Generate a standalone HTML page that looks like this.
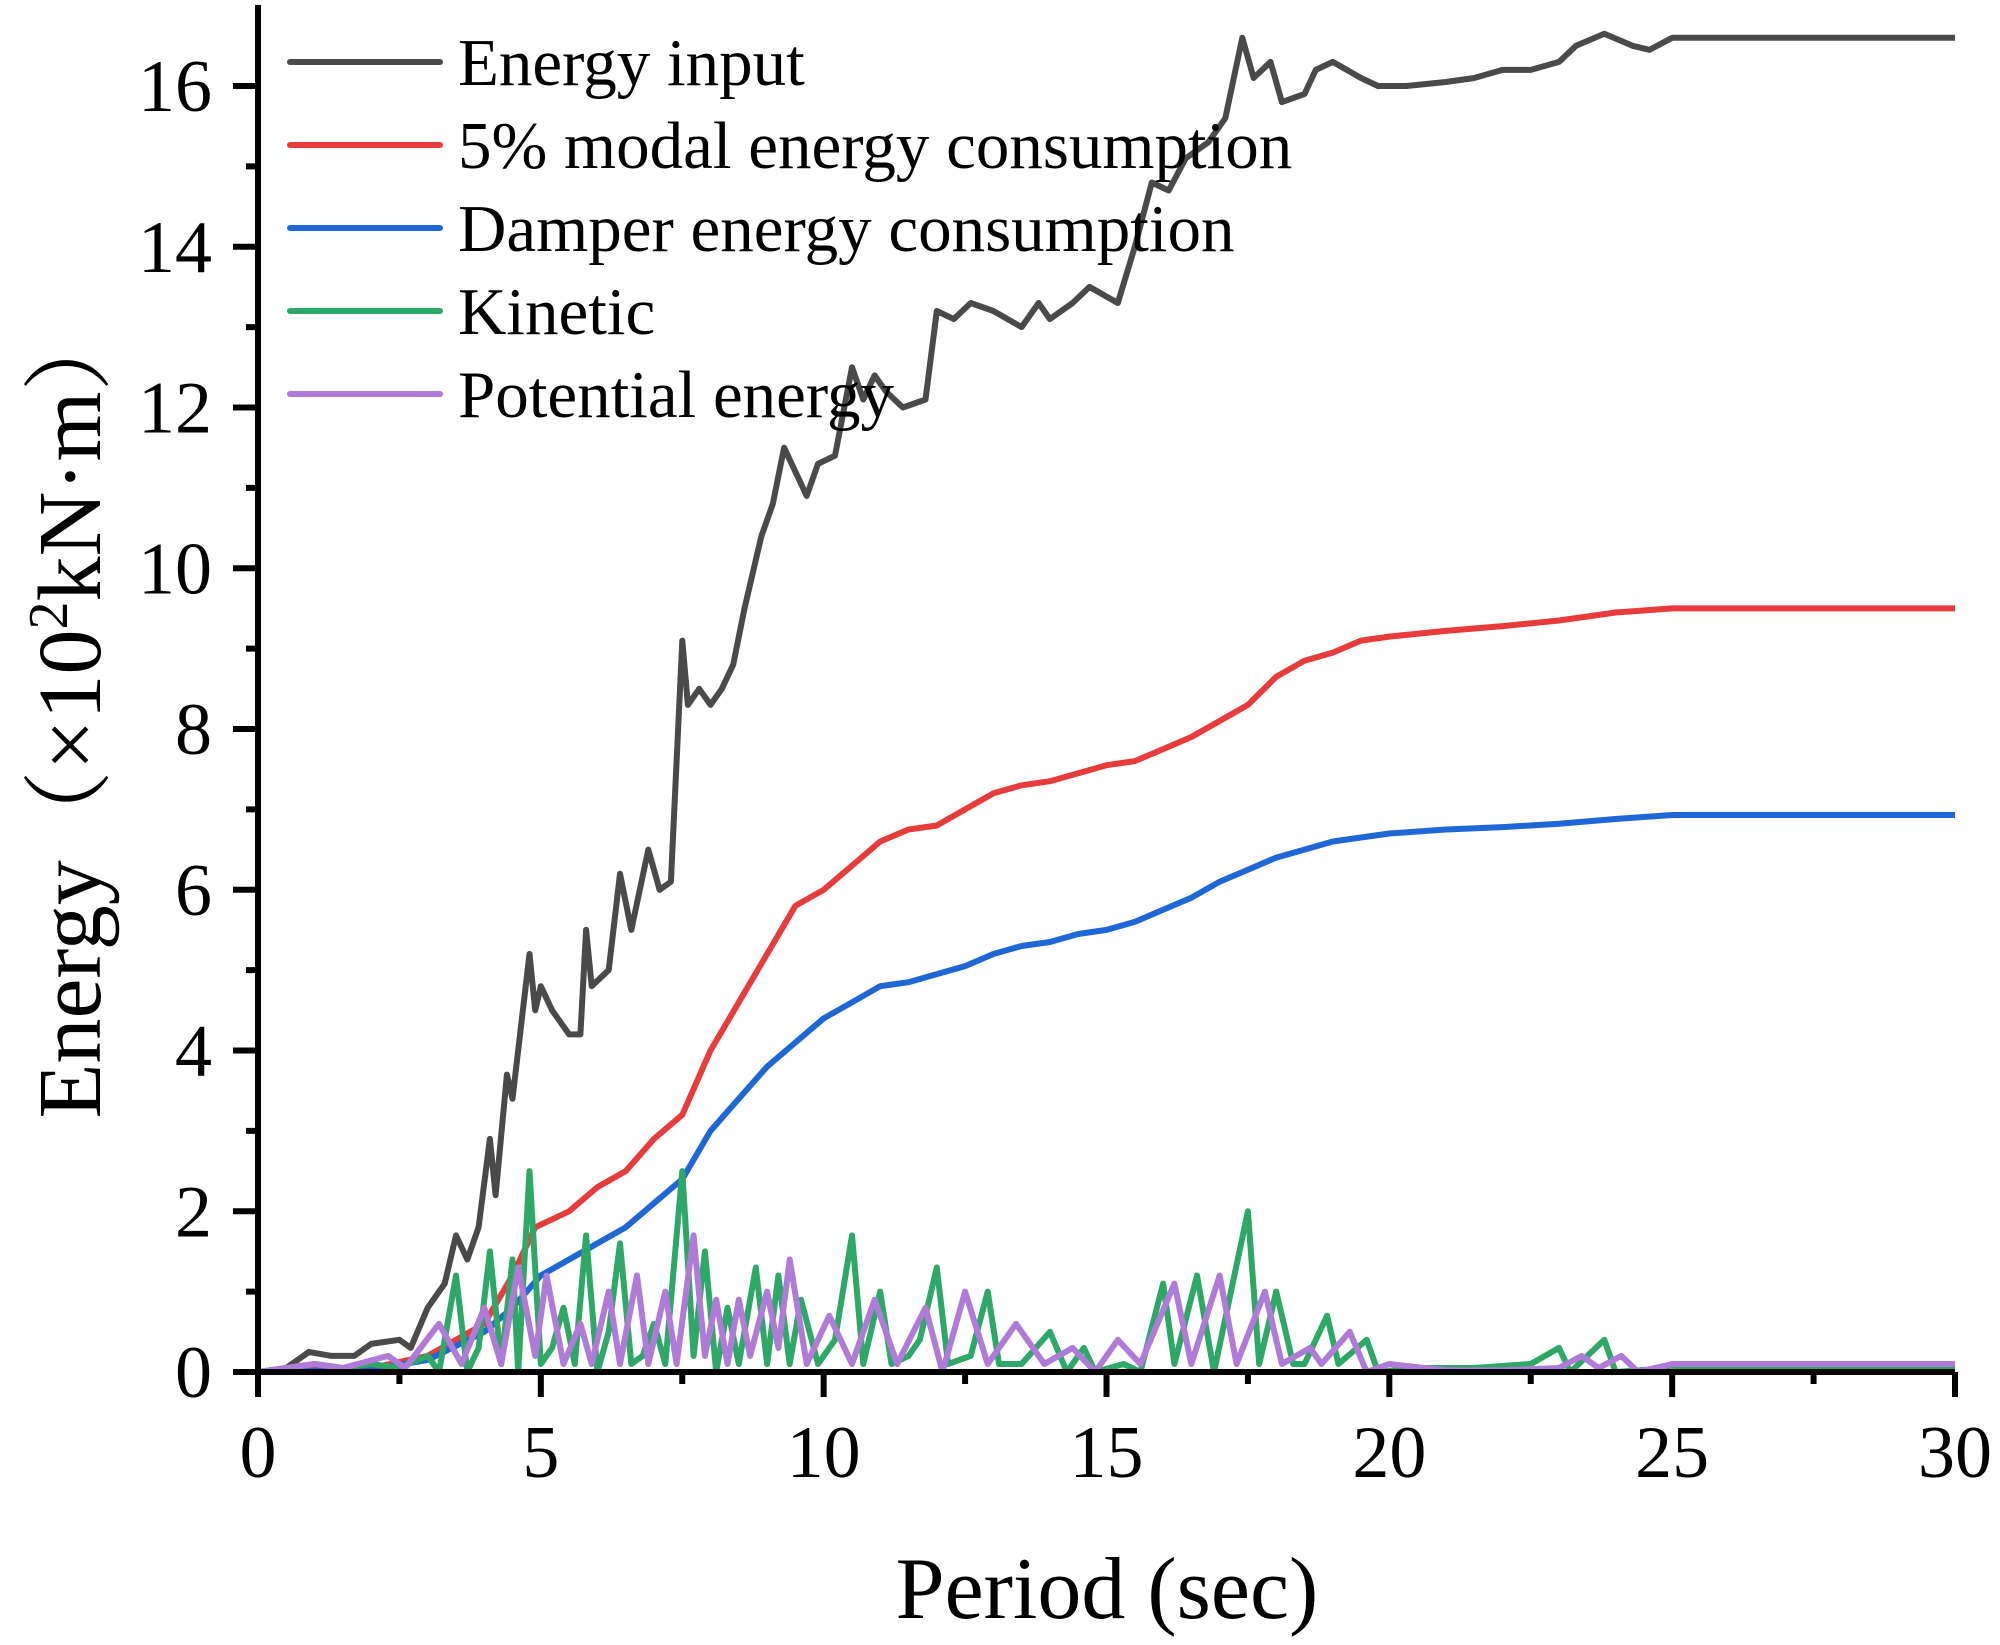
<!DOCTYPE html>
<html><head><meta charset="utf-8"><style>
html,body{margin:0;padding:0;background:#fff;}
svg{display:block;font-family:"Liberation Serif","Noto Serif CJK SC",serif;}
</style></head><body>
<svg id="chart" width="2000" height="1645" viewBox="0 0 2000 1645">
<g id="series"></g>
<g id="axes"></g>
<g id="legend"></g>
<text x="1107" y="1618" font-size="88" text-anchor="middle">Period (sec)</text>
<text transform="translate(100,710) rotate(-90)" font-size="90" text-anchor="middle">Energy（×10<tspan font-size="56" dy="-33">2</tspan><tspan dy="33">kN·m）</tspan></text>
</svg>
<script>
const energyT=[0,0.5,0.9,1.3,1.7,2.0,2.5,2.7,3.0,3.3,3.5,3.7,3.9,4.1,4.2,4.4,4.5,4.8,4.9,5.0,5.2,5.5,5.7,5.8,5.9,6.2,6.4,6.6,6.9,7.1,7.3,7.5,7.6,7.8,8.0,8.2,8.4,8.6,8.9,9.1,9.3,9.5,9.7,9.9,10.2,10.5,10.7,10.9,11.1,11.4,11.8,12.0,12.3,12.6,13.0,13.5,13.8,14.0,14.4,14.7,15.2,15.5,15.8,16.1,16.4,16.8,17.1,17.4,17.6,17.9,18.1,18.5,18.7,19.0,19.5,19.8,20.3,21.0,21.5,22.0,22.5,23.0,23.3,23.8,24.3,24.6,25.0,30];
const energyV=[0,0.05,0.25,0.2,0.2,0.35,0.4,0.3,0.8,1.1,1.7,1.4,1.8,2.9,2.2,3.7,3.4,5.2,4.5,4.8,4.5,4.2,4.2,5.5,4.8,5.0,6.2,5.5,6.5,6.0,6.1,9.1,8.3,8.5,8.3,8.5,8.8,9.5,10.4,10.8,11.5,11.2,10.9,11.3,11.4,12.5,12.1,12.4,12.2,12.0,12.1,13.2,13.1,13.3,13.2,13.0,13.3,13.1,13.3,13.5,13.3,14.0,14.8,14.7,15.1,15.3,15.6,16.6,16.1,16.3,15.8,15.9,16.2,16.3,16.1,16.0,16.0,16.05,16.1,16.2,16.2,16.3,16.5,16.65,16.5,16.45,16.6,16.6];
const modalT=[0,2,3,4,4.5,4.9,5.5,6,6.5,7,7.5,8,8.5,9,9.5,10,10.5,11,11.5,12,12.5,13,13.5,14,14.5,15,15.5,16,16.5,17,17.5,18,18.5,19,19.5,20,21,22,23,24,25,30];
const modalV=[0,0.05,0.2,0.6,1.2,1.8,2.0,2.3,2.5,2.9,3.2,4.0,4.6,5.2,5.8,6.0,6.3,6.6,6.75,6.8,7.0,7.2,7.3,7.35,7.45,7.55,7.6,7.75,7.9,8.1,8.3,8.65,8.85,8.95,9.1,9.15,9.22,9.28,9.35,9.45,9.5,9.5];
const damperT=[0,2,3,4,4.5,5,5.5,6,6.5,7,7.5,8,8.5,9,9.5,10,10.5,11,11.5,12,12.5,13,13.5,14,14.5,15,15.5,16,16.5,17,17.5,18,18.5,19,20,21,22,23,24,25,30];
const damperV=[0,0.03,0.15,0.5,0.8,1.2,1.4,1.6,1.8,2.1,2.4,3.0,3.4,3.8,4.1,4.4,4.6,4.8,4.85,4.95,5.05,5.2,5.3,5.35,5.45,5.5,5.6,5.75,5.9,6.1,6.25,6.4,6.5,6.6,6.7,6.75,6.78,6.82,6.88,6.93,6.93];
const kineticT=[0,1,1.5,2,2.5,3,3.2,3.5,3.7,3.9,4.1,4.3,4.5,4.6,4.8,5.0,5.2,5.4,5.6,5.8,6.0,6.2,6.4,6.6,6.8,7.0,7.2,7.5,7.7,7.9,8.1,8.3,8.5,8.8,9.0,9.2,9.4,9.6,9.9,10.2,10.5,10.7,11,11.2,11.5,11.7,12,12.2,12.6,12.9,13.1,13.5,14,14.3,14.6,14.8,15.3,15.6,16.0,16.2,16.6,16.9,17.5,17.7,18.0,18.3,18.5,18.9,19.1,19.6,19.8,20.5,21.5,22.5,23,23.2,23.8,24.0,25,30];
const kineticV=[0,0.1,0.05,0.1,0.05,0.2,0,1.2,0,0.3,1.5,0.1,1.4,0,2.5,0.1,0.3,0.8,0.1,1.7,0,0.5,1.6,0.1,0.2,0.6,0.1,2.5,0.2,1.5,0,0.8,0.1,1.3,0.1,1.2,0.1,0.9,0.1,0.4,1.7,0.1,1.0,0.1,0.2,0.4,1.3,0.1,0.2,1.0,0.1,0.1,0.5,0,0.3,0,0.1,0,1.1,0.1,1.2,0,2.0,0.1,1.0,0.1,0.1,0.7,0.1,0.4,0,0.05,0.05,0.1,0.3,0,0.4,0,0.05,0.05];
const potentialT=[0,1,1.5,2.3,2.6,3.2,3.6,4.0,4.3,4.6,4.9,5.1,5.4,5.7,5.9,6.2,6.4,6.7,6.9,7.2,7.4,7.7,7.9,8.1,8.3,8.5,8.7,9.0,9.2,9.4,9.7,10.1,10.5,10.9,11.3,11.8,12.1,12.5,12.9,13.4,13.9,14.4,14.8,15.2,15.6,16.2,16.5,17.0,17.3,17.8,18.1,18.6,18.8,19.3,19.6,20,21,22,23,23.4,23.7,24.1,24.4,25,30];
const potentialV=[0,0.1,0.05,0.2,0.05,0.6,0.1,0.8,0.1,1.3,0.2,1.2,0.1,0.6,0.1,1.0,0.1,1.2,0.1,1.0,0.1,1.7,0.2,0.9,0.1,0.9,0.2,1.0,0.3,1.4,0.1,0.7,0.1,0.9,0.1,0.8,0,1.0,0.1,0.6,0.1,0.3,0,0.4,0.1,1.1,0.1,1.2,0.1,1.0,0.1,0.3,0.1,0.5,0,0.1,0.02,0.02,0.05,0.2,0.05,0.2,0,0.1,0.1];
const xTicks=[0,5,10,15,20,25,30];
const yTicks=[0,2,4,6,8,10,12,14,16];
const legendLabels=["Energy input","5% modal energy consumption","Damper energy consumption","Kinetic","Potential energy"];
const colors=["#4a4a4a","#e83c3c","#1f66d6","#2ea866","#b07ad8"];

const X0=258,X1=1955,Y0=1372,Y16=86;
const sx=t=>X0+(X1-X0)*t/30;
const sy=v=>Y0-(Y0-Y16)*v/16;
const NS="http://www.w3.org/2000/svg";
function mk(tag,attrs,parent){const e=document.createElementNS(NS,tag);for(const k in attrs)e.setAttribute(k,attrs[k]);parent.appendChild(e);return e;}
const sg=document.getElementById('series');
const sets=[[energyT,energyV,'energy-input-line'],[modalT,modalV,'modal-energy-line'],[damperT,damperV,'damper-energy-line'],[kineticT,kineticV,'kinetic-energy-line'],[potentialT,potentialV,'potential-energy-line']];
sets.forEach((s,i)=>{
  const d=s[0].map((t,j)=>(j?'L':'M')+sx(t).toFixed(1)+' '+sy(s[1][j]).toFixed(1)).join(' ');
  const p=mk('path',{d:d,fill:'none',stroke:colors[i],'stroke-width':6,'stroke-linejoin':'round'},sg);
  
  
});
const ax=document.getElementById('axes');
const axl=mk('path',{d:`M${X0} 5 L${X0} ${Y0} L${X1} ${Y0}`,fill:'none',stroke:'#000','stroke-width':6},ax);


for(let t=0;t<=30;t+=2.5){
  const major=t%5===0;
  const tk=mk('line',{x1:sx(t),x2:sx(t),y1:Y0,y2:Y0+(major?25:12),stroke:'#000','stroke-width':6},ax);
  
  
}
xTicks.forEach(t=>{
  const tx=mk('text',{x:sx(t),y:1477,'font-size':74,'text-anchor':'middle'},ax);
  tx.textContent=t;
  
  
});
for(let v=0;v<=16;v+=1){
  const major=v%2===0;
  const tk=mk('line',{x1:X0-(major?25:12),x2:X0,y1:sy(v),y2:sy(v),stroke:'#000','stroke-width':6},ax);
  
  
}
yTicks.forEach(v=>{
  const tx=mk('text',{x:212,y:sy(v)+25,'font-size':74,'text-anchor':'end'},ax);
  tx.textContent=v;
  
  
});
const lg=document.getElementById('legend');
legendLabels.forEach((l,i)=>{
  const y=62+i*83;
  const ln=mk('line',{x1:290,x2:440,y1:y,y2:y,stroke:colors[i],'stroke-width':6,'stroke-linecap':'round'},lg);
  
  
  const tx=mk('text',{x:458,y:y+23,'font-size':67},lg);
  tx.textContent=l;
  
  
});
</script>
</body></html>
